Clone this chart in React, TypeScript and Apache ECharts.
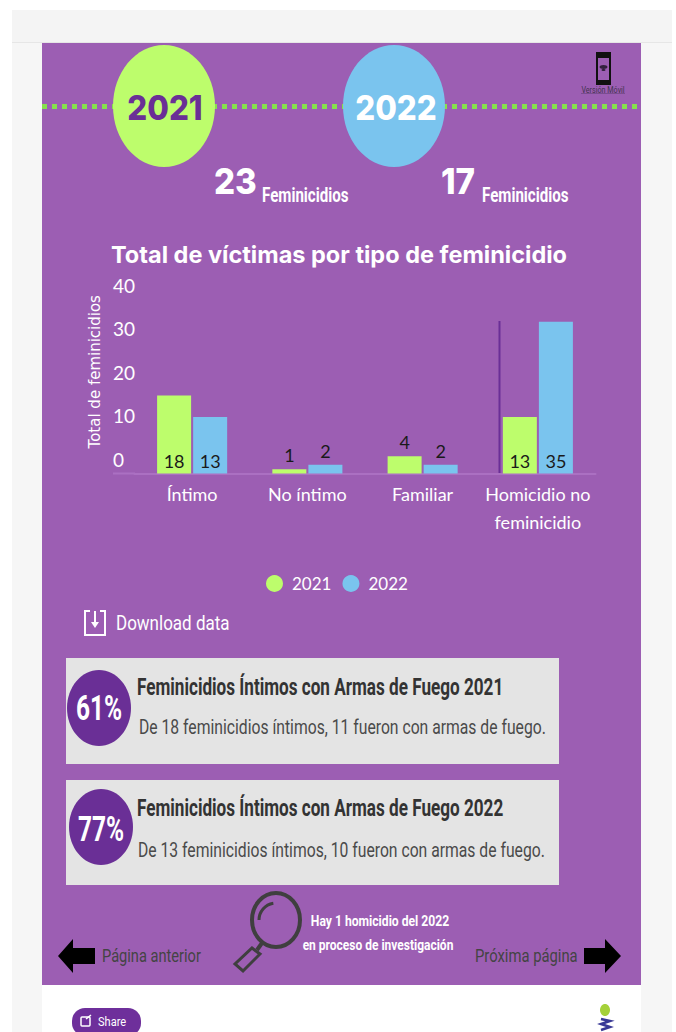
import React, { useEffect, useRef } from "react";
import * as echarts from "echarts";

const categories = ["Íntimo", "No íntimo", "Familiar", "Homicidio no\nfeminicidio"];
const values2021 = [18, 1, 4, 13];
const values2022 = [13, 2, 2, 35];
const yTicks = { min: 0, max: 40, interval: 10 };
const title = "Total de víctimas por tipo de feminicidio";
const yName = "Total de feminicidios";

const PURPLE = "#9c5eb3";
const GREEN = "#bdfd6c";
const BLUE = "#7ac4ee";
const DARK = "#6a2f96";
const ROB = "Roboto, sans-serif";
const AXIS = "Lato, sans-serif";
const HEAD = "Inter, sans-serif";

const rect = (x: number, y: number, w: number, h: number, fill: string, z = 0) => ({
  type: "rect", z, silent: true, shape: { x, y, width: w, height: h }, style: { fill },
});
const text = (t: string, x: number, y: number, fontSize: number, fill: string, scaleX = 1, font = ROB, fontWeight: any = "normal", align = "left") => ({
  type: "text", z: 5, silent: true, x, y, scaleX,
  style: { text: t, fontSize, fill, fontFamily: font, fontWeight, align, verticalAlign: "middle" },
});
const ellipse = (cx: number, cy: number, rx: number, ry: number, fill: string, z = 3) => ({
  type: "ellipse", z, silent: true, shape: { cx, cy, rx, ry }, style: { fill },
});
const stroke = (points: number[][], color: string, lineWidth: number, z = 4) => ({
  type: "polyline", z, silent: true, shape: { points }, style: { fill: "none", stroke: color, lineWidth },
});

const bgGraphics = [
  rect(12, 10, 660, 33, "#f4f4f4"),
  rect(12, 42, 660, 1, "#e6e6e6"),
  rect(12, 43, 30, 989, "#f6f6f6"),
  rect(641, 43, 31, 989, "#f6f6f6"),
  rect(42, 43, 599, 942, PURPLE),
  {
    type: "line", z: 2, silent: true,
    shape: { x1: 42, y1: 106.5, x2: 641, y2: 106.5 },
    style: { stroke: "#86e04c", lineWidth: 5, lineDash: [5, 5] },
  },
  ellipse(164, 106, 51, 61, GREEN),
  ellipse(394, 106, 51, 61, BLUE),
  text("2021", 165, 108, 34, DARK, 0.92, HEAD, 800, "center"),
  text("2022", 396, 108, 34, "#ffffff", 0.92, HEAD, 800, "center"),
  text("23", 214, 181, 36, "#ffffff", 0.92, HEAD, 800),
  text("Feminicidios", 262, 195, 21, "#ffffff", 0.72, ROB, 700),
  text("17", 441, 181, 36, "#ffffff", 0.92, HEAD, 800),
  text("Feminicidios", 482, 195, 21, "#ffffff", 0.72, ROB, 700),
  // phone icon
  { type: "rect", z: 3, silent: true, shape: { x: 597, y: 53, width: 13, height: 31 }, style: { fill: "#9c5eb3", stroke: "#111", lineWidth: 2 } },
  rect(597, 53, 13, 5, "#111", 4),
  rect(597, 80, 13, 5, "#111", 4),
  ellipse(603.5, 67, 4, 2, "#33223f", 4),
  ellipse(603.5, 70, 2, 1, "#33223f", 4),
  text("Versión Móvil", 603, 90, 9, "#43334f", 0.8, ROB, "normal", "center"),
  rect(581, 93, 44, 1, "#7a4d90", 4),
  // download
  stroke([[90, 611], [85, 611], [85, 635], [105, 635], [105, 611], [100, 611]], "#ffffff", 2),
  { type: "line", z: 4, silent: true, shape: { x1: 95, y1: 611, x2: 95, y2: 623 }, style: { stroke: "#fff", lineWidth: 2 } },
  { type: "polygon", z: 4, silent: true, shape: { points: [[91, 622], [99, 622], [95, 628]] }, style: { fill: "#fff" } },
  text("Download data", 116, 623, 21, "#ffffff", 0.81),
  // cards
  rect(66, 658, 493, 106, "#e4e4e4", 2),
  ellipse(99, 708, 32, 38, DARK),
  text("61%", 99, 708, 35, "#ffffff", 0.7, ROB, 700, "center"),
  text("Feminicidios Íntimos con Armas de Fuego 2021", 137, 687, 23, "#333333", 0.745, ROB, 700),
  text("De 18 feminicidios íntimos, 11 fueron con armas de fuego.", 139, 727, 20, "#4a4a4a", 0.786),
  rect(66, 780, 493, 105, "#e4e4e4", 2),
  ellipse(101, 827, 32, 38, DARK),
  text("77%", 101, 829, 35, "#ffffff", 0.7, ROB, 700, "center"),
  text("Feminicidios Íntimos con Armas de Fuego 2022", 137, 808, 23, "#333333", 0.745, ROB, 700),
  text("De 13 feminicidios íntimos, 10 fueron con armas de fuego.", 138, 850, 20, "#4a4a4a", 0.786),
  // footer nav
  { type: "polygon", z: 3, silent: true, shape: { points: [[58, 956], [73, 939], [73, 948], [95, 948], [95, 964], [73, 964], [73, 973]] }, style: { fill: "#000" } },
  text("Página anterior", 102, 955, 19, "#444444", 0.77),
  { type: "polygon", z: 3, silent: true, shape: { points: [[621, 956], [605, 939], [605, 948], [584, 948], [584, 964], [605, 964], [605, 973]] }, style: { fill: "#000" } },
  text("Próxima página", 475, 955, 19, "#444444", 0.78),
  // magnifier
  { type: "ellipse", z: 3, silent: true, shape: { cx: 276, cy: 920, rx: 24, ry: 27 }, style: { fill: "none", stroke: "#3f3f3f", lineWidth: 4 } },
  stroke([[262, 943], [257, 950]], "#3f3f3f", 4, 3),
  { type: "polygon", z: 3, silent: true, shape: { points: [[252, 948], [260, 954], [243, 971], [235, 964]] }, style: { fill: "none", stroke: "#3f3f3f", lineWidth: 3 } },
  { type: "arc", z: 3, silent: true, shape: { cx: 276, cy: 920, r: 17, startAngle: Math.PI, endAngle: Math.PI * 1.45 }, style: { fill: "none", stroke: "#3f3f3f", lineWidth: 3 } },
  text("Hay 1 homicidio del 2022", 380, 921, 15, "#ffffff", 0.81, ROB, 700, "center"),
  text("en proceso de investigación", 378, 944, 15, "#ffffff", 0.8, ROB, 700, "center"),
  // share
  { type: "rect", z: 3, silent: true, shape: { x: 72, y: 1008, width: 69, height: 28, r: 13 }, style: { fill: "#6e2f9b" } },
  { type: "rect", z: 4, silent: true, shape: { x: 81, y: 1017, width: 9, height: 9, r: 1 }, style: { fill: "none", stroke: "#fff", lineWidth: 1.5 } },
  stroke([[86, 1019], [91, 1015]], "#ffffff", 1.5),
  text("Share", 98, 1022, 13, "#ffffff", 0.85),
  // partner logo
  ellipse(605, 1010, 5, 6, "#a5d13a"),
  stroke([[601, 1019], [610, 1021], [601, 1024], [610, 1027], [601, 1030]], "#3a3a96", 2.5, 3),
  // plot decoration
  { type: "line", z: 1, silent: true, shape: { x1: 113, y1: 473.5, x2: 135, y2: 473.5 }, style: { stroke: "#ab70c2", lineWidth: 2 } },
  { type: "line", z: 6, silent: true, shape: { x1: 499.5, y1: 321, x2: 499.5, y2: 473 }, style: { stroke: DARK, lineWidth: 2 } },
];

const labelOf = (v: number) => ({
  position: v >= 10 ? "insideBottom" : "top",
  distance: v >= 10 ? 4 : 5,
});

const series = (name: string, values: number[], color: string) => ({
  name,
  type: "bar",
  barWidth: 34,
  barGap: "6%",
  itemStyle: { color },
  label: { show: true, color: "#1a1a1a", fontFamily: AXIS, fontSize: 18 },
  data: values.map((v) => ({ value: v, label: labelOf(v) })),
});

export default function App() {
  const ref = useRef<HTMLDivElement>(null);
  useEffect(() => {
    document.body.style.margin = "0";
    document.body.style.background = "#ffffff";
    const chart = echarts.init(ref.current!, null, { renderer: "svg" });
    chart.setOption({
      animation: false,
      backgroundColor: "#ffffff",
      title: {
        text: title, left: 334, top: 249, textAlign: "center", textVerticalAlign: "middle",
        textStyle: { color: "#fff", fontFamily: HEAD, fontWeight: 700, fontSize: 23.5 },
      },
      legend: {
        left: 261, top: 570, itemGap: 11, itemWidth: 17, itemHeight: 17, icon: "circle",
        textStyle: { color: "#fff", fontFamily: AXIS, fontSize: 17, padding: [0, 0, 0, 4] },
        data: ["2021", "2022"],
      },
      grid: { left: 134.5, width: 461, top: 300, height: 173.5 },
      xAxis: {
        type: "category",
        data: categories,
        axisTick: { show: false },
        axisLine: { lineStyle: { color: "#ab70c2", width: 2 } },
        axisLabel: { color: "#fff", fontFamily: AXIS, fontSize: 18, lineHeight: 28, margin: 6, interval: 0 },
      },
      yAxis: {
        type: "value",
        ...yTicks,
        splitLine: { show: false },
        axisLine: { show: false },
        axisTick: { show: false },
        name: yName,
        nameLocation: "middle",
        nameRotate: 90,
        nameGap: 24,
        nameTextStyle: { color: "#fff", fontFamily: '"DejaVu Sans", sans-serif', fontSize: 15, padding: [0, 0, 0, 30] },
        axisLabel: { color: "#fff", fontFamily: AXIS, fontSize: 19, align: "left", margin: 21.5, verticalAlign: "bottom", padding: [0, 0, 5, 0] },
      },
      graphic: { elements: bgGraphics },
      series: [series("2021", values2021, GREEN), series("2022", values2022, BLUE)],
    });
    return () => chart.dispose();
  }, []);
  return <div ref={ref} style={{ position: "absolute", left: 0, top: 0, width: 676, height: 1032 }} />;
}
